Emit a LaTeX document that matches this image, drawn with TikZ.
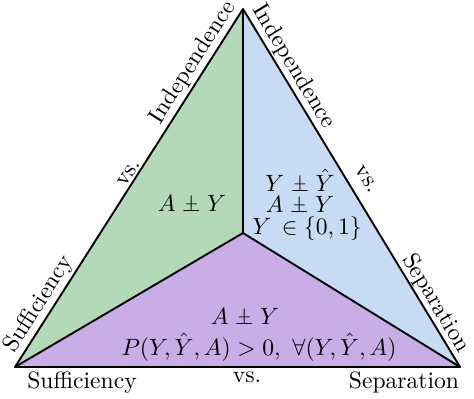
\documentclass[tikz,border=0pt]{standalone}
\usepackage{amsmath,amssymb}
\newcommand{\indsym}{\mathrel{\text{\ooalign{$\perp$\cr\hidewidth\raisebox{0.3ex}{$\scriptstyle -$}\hidewidth\cr}}}}
\definecolor{grn}{RGB}{180,217,185}
\definecolor{blu}{RGB}{199,220,244}
\definecolor{pur}{RGB}{200,173,230}
\begin{document}
\begin{tikzpicture}[x=0.424pt,y=-0.424pt,
  edge/.style={line width=0.8pt,line join=round},
  elabel/.style={sloped,above,inner sep=1pt},
  blabel/.style={below,inner sep=1pt},
  mtext/.style={inner sep=0pt}]
\useasboundingbox (0,0) rectangle (474,398);
\coordinate (T) at (243,9);
\coordinate (L) at (15,367);
\coordinate (R) at (460,367);
\coordinate (C) at (243,233);
\fill[grn] (L) -- (T) -- (C) -- cycle;
\fill[blu] (T) -- (R) -- (C) -- cycle;
\fill[pur] (L) -- (C) -- (R) -- cycle;
\draw[edge] (L) -- (T) -- (R) -- cycle;
\draw[edge] (T) -- (C) (L) -- (C) -- (R);
% edge labels
\path (L) -- (T)
  node[elabel,pos=0.155] (ls) {Sufficiency}
  node[elabel,pos=0.53] (lv) {vs.}
  node[elabel,pos=0.83] (li) {Independence};
\path (T) -- (R)
  node[elabel,pos=0.5,inner sep=5pt] (rv) {vs.}
  node[elabel,pos=0.18] (ri) {Independence}
  node[elabel,pos=0.84,inner sep=0.5pt] (rs) {Separation};
\node[blabel] (bs) at (82,369) {Sufficiency};
\node[blabel] (bv) at (247,369) {vs.};
\node[blabel] (bp) at (404,369) {Separation};
% region texts
\node[mtext] (g) at (192,203) {$A \indsym Y$};
\node[mtext] (b1) at (300,180) {$Y \indsym \hat{Y}$};
\node[mtext] (b2) at (300,204) {$A \indsym Y$};
\node[mtext] (b3) at (307,229) {$Y\,\in \{0,1\}$};
\node[mtext] (p1) at (245,316) {$A \indsym Y$};
\node[mtext] (p2) at (259,347) {$P(Y,\hat{Y},A) > 0,\ \forall (Y,\hat{Y},A)$};
\end{tikzpicture}
\end{document}
